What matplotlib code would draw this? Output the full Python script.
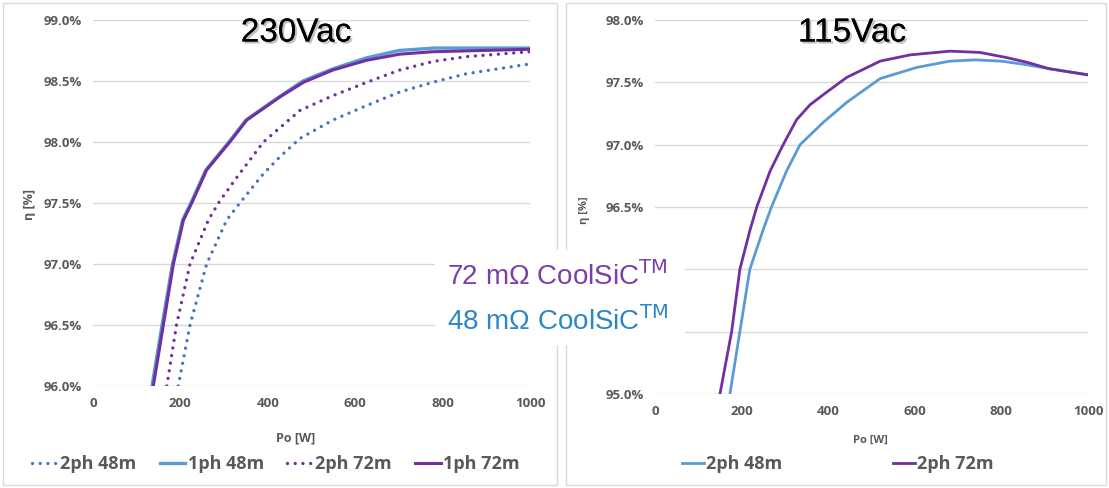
import matplotlib
matplotlib.use("Agg")
from matplotlib import pyplot as plt
from matplotlib.patches import Rectangle
from matplotlib.ticker import FuncFormatter
import matplotlib.patheffects as pe

# 230Vac data
po_2ph48_230 = [195, 222, 260, 306, 336, 390, 428, 474, 549, 627, 702, 778, 855, 1000]
eff_2ph48_230 = [96.0, 96.5, 97.0, 97.36, 97.5, 97.74, 97.88, 98.03, 98.18, 98.30, 98.41, 98.49, 98.56, 98.64]
po_1ph48_230 = [135, 158, 182, 205, 224, 258, 311, 350, 426, 480, 549, 626, 700, 780, 1000]
eff_1ph48_230 = [96.0, 96.5, 97.0, 97.36, 97.5, 97.77, 98.0, 98.18, 98.37, 98.5, 98.60, 98.69, 98.75, 98.77, 98.77]
po_2ph72_230 = [169, 191, 222, 264, 287, 329, 390, 474, 549, 627, 702, 778, 855, 1000]
eff_2ph72_230 = [96.0, 96.5, 97.0, 97.36, 97.5, 97.71, 98.0, 98.26, 98.38, 98.49, 98.59, 98.66, 98.70, 98.74]
po_1ph72_230 = [138, 161, 184, 207, 226, 260, 313, 352, 428, 482, 549, 626, 702, 778, 1000]
eff_1ph72_230 = [96.0, 96.5, 97.0, 97.36, 97.5, 97.77, 98.0, 98.18, 98.37, 98.49, 98.59, 98.67, 98.72, 98.74, 98.76]

# 115Vac data
po_2ph48_115 = [173, 196, 219, 250, 269, 304, 335, 389, 443, 520, 605, 681, 740, 800, 860, 909, 1000]
eff_2ph48_115 = [95.0, 95.5, 96.0, 96.32, 96.5, 96.79, 97.0, 97.18, 97.34, 97.53, 97.62, 97.67, 97.68, 97.67, 97.64, 97.61, 97.56]
po_2ph72_115 = [150, 177, 196, 219, 235, 266, 296, 327, 358, 396, 443, 520, 589, 681, 750, 810, 860, 909, 1000]
eff_2ph72_115 = [95.0, 95.5, 96.0, 96.31, 96.5, 96.79, 97.0, 97.2, 97.32, 97.42, 97.54, 97.67, 97.72, 97.75, 97.74, 97.70, 97.66, 97.61, 97.56]

light_blue = '#5B9BD5'
dot_blue = '#4472C4'
purple = '#7030A0'
grey = '#595959'

plt.rcParams['font.family'] = ['Open Sans', 'DejaVu Sans']

fig = plt.figure(figsize=(11.09, 4.88), dpi=100)
W, H = 1109, 488

def fx(px):
    return px / W

def fy(py):
    return 1 - py / H

# chart frames
for x0, x1 in [(3, 557), (566, 1106)]:
    fig.patches.append(Rectangle((fx(x0), fy(485)), fx(x1 - x0), (485 - 3) / H,
                                 transform=fig.transFigure, fill=False, edgecolor='#D9D9D9', lw=1))

def style(ax, ylo, yhi, hidden=()):
    ax.set_xlim(0, 1000)
    ax.set_ylim(ylo, yhi)
    ax.set_xticks(range(0, 1001, 200))
    ax.set_yticks([ylo + 0.5 * i for i in range(int(round((yhi - ylo) / 0.5)) + 1)])
    ax.yaxis.set_major_formatter(FuncFormatter(
        lambda v, _: '' if round(v, 1) in hidden else f'{v:.1f}%'))
    ax.grid(axis='y', color='#D9D9D9', lw=1)
    ax.set_axisbelow(True)
    for s in ax.spines.values():
        s.set_visible(False)
    ax.tick_params(length=0, colors=grey, labelsize=9.5, pad=8)
    for lab in ax.get_xticklabels() + ax.get_yticklabels():
        lab.set_fontweight('bold')

dots = (0, (0.01, 2.3))

ax1 = fig.add_axes([fx(93), fy(386), fx(530 - 93), (386 - 20) / H])
style(ax1, 96.0, 99.0)
ax1.plot(po_2ph48_230, eff_2ph48_230, color=dot_blue, lw=2.4, ls=dots, dash_capstyle='round', label='2ph 48m')
ax1.plot(po_1ph48_230, eff_1ph48_230, color=light_blue, lw=2.4, label='1ph 48m')
ax1.plot(po_2ph72_230, eff_2ph72_230, color=purple, lw=2.4, ls=dots, dash_capstyle='round', label='2ph 72m')
ax1.plot(po_1ph72_230, eff_1ph72_230, color=purple, lw=2.2, label='1ph 72m')

ax2 = fig.add_axes([fx(655), fy(394), fx(1088 - 655), (394 - 20) / H])
style(ax2, 95.0, 98.0, hidden=(95.5, 96.0))
ax2.plot(po_2ph48_115, eff_2ph48_115, color=light_blue, lw=2, label='2ph 48m')
ax2.plot(po_2ph72_115, eff_2ph72_115, color=purple, lw=2, label='2ph 72m')

shadow = [pe.withSimplePatchShadow(offset=(1.5, -1.5), shadow_rgbFace='#999999', alpha=0.6), pe.Normal()]
fig.text(fx(296), fy(33), '230Vac', fontsize=24, family='Liberation Sans', ha='center', va='center', path_effects=shadow)
fig.text(fx(852), fy(33), '115Vac', fontsize=24, family='Liberation Sans', ha='center', va='center', path_effects=shadow)

fig.text(fx(30), fy(205), 'η [%]', rotation=90, fontsize=9, color=grey, fontweight='bold', ha='center', va='center')
fig.text(fx(584), fy(210), 'η [%]', rotation=90, fontsize=8, color=grey, fontweight='bold', ha='center', va='center')
fig.text(fx(296), fy(438), 'Po [W]', fontsize=9, color=grey, fontweight='bold', ha='center', va='center')
fig.text(fx(870), fy(440), 'Po [W]', fontsize=8, color=grey, fontweight='bold', ha='center', va='center')

leg1 = fig.legend(*ax1.get_legend_handles_labels(), loc='center', bbox_to_anchor=(fx(276), fy(464)),
                  ncol=4, frameon=False, handlelength=1.4, handletextpad=0.15, columnspacing=1.3,
                  prop={'size': 13, 'weight': 'bold'})
leg2 = fig.legend(*ax2.get_legend_handles_labels(), loc='center', bbox_to_anchor=(fx(838), fy(464)),
                  ncol=2, frameon=False, handlelength=1.2, handletextpad=0.15, columnspacing=6.1,
                  prop={'size': 13, 'weight': 'bold'})
for leg in (leg1, leg2):
    for t in leg.get_texts():
        t.set_color(grey)

# overlay label box
fig.patches.append(Rectangle((fx(435), fy(345)), fx(250), 95 / H, transform=fig.transFigure,
                             facecolor='white', edgecolor='none', zorder=5))
fig.text(fx(557), fy(276), r'72 mΩ CoolSiC$^{\mathrm{TM}}$', fontsize=20, family='Liberation Sans',
         color='#7A3FA8', ha='center', va='center', zorder=6)
fig.text(fx(557), fy(321), r'48 mΩ CoolSiC$^{\mathrm{TM}}$', fontsize=20, family='Liberation Sans',
         color='#2E86C8', ha='center', va='center', zorder=6)

fig.savefig('out.png', dpi=100)
